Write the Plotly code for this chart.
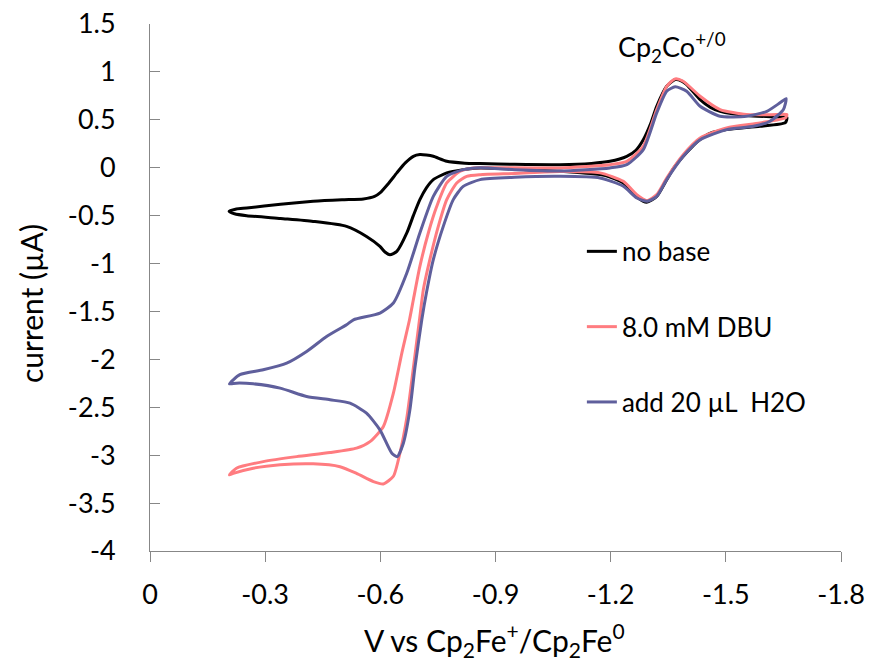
import plotly.graph_objects as go

# ---- data (V vs Cp2Fe+/Cp2Fe0, current in uA), loop: left vertex -> right vertex -> back
no_base_v = [-0.206, -0.225, -0.252, -0.34, -0.425, -0.50, -0.556, -0.585, -0.599, -0.62, -0.643, -0.665,
             -0.686, -0.703, -0.72, -0.738, -0.773, -0.82, -0.86, -0.95, -1.068, -1.15, -1.198, -1.242,
             -1.265, -1.285, -1.305, -1.32, -1.346, -1.368, -1.385, -1.398, -1.433, -1.46, -1.485, -1.554,
             -1.633, -1.659,
             -1.655, -1.589, -1.502, -1.46, -1.433, -1.41, -1.389, -1.365, -1.346, -1.32, -1.294, -1.268,
             -1.25, -1.233, -1.20, -1.172, -1.068, -0.95, -0.86, -0.816, -0.773, -0.738, -0.72, -0.703,
             -0.686, -0.669, -0.643, -0.625, -0.612, -0.599, -0.564, -0.512, -0.425, -0.34, -0.252, -0.22,
             -0.206]
no_base_i = [-0.455, -0.43, -0.42, -0.38, -0.351, -0.335, -0.326, -0.30, -0.263, -0.17, -0.054, 0.05,
             0.119, 0.137, 0.132, 0.119, 0.067, 0.048, 0.043, 0.035, 0.032, 0.045, 0.067, 0.119,
             0.18, 0.293, 0.47, 0.641, 0.85, 0.92, 0.905, 0.868, 0.711, 0.63, 0.589, 0.545,
             0.53, 0.525,
             0.47, 0.432, 0.398, 0.36, 0.293, 0.21, 0.119, 0.0, -0.124, -0.299, -0.36, -0.305,
             -0.23, -0.159, -0.10, -0.072, -0.037, -0.015, -0.002, -0.02, -0.054, -0.124, -0.21, -0.333,
             -0.50, -0.681, -0.873, -0.908, -0.88, -0.821, -0.717, -0.612, -0.56, -0.53, -0.50, -0.48,
             -0.455]

dbu_v = [-0.207, -0.225, -0.295, -0.382, -0.469, -0.538, -0.573, -0.608, -0.634, -0.656, -0.676, -0.686,
         -0.703, -0.725, -0.747, -0.773, -0.808, -0.842, -0.90, -1.068, -1.198, -1.242, -1.285, -1.32,
         -1.346, -1.368, -1.389, -1.433, -1.485, -1.554, -1.633, -1.659,
         -1.655, -1.589, -1.502, -1.433, -1.389, -1.346, -1.32, -1.295, -1.268, -1.233, -1.172, -1.068,
         -0.95, -0.86, -0.825, -0.799, -0.773, -0.751, -0.729, -0.712, -0.702, -0.686, -0.669, -0.651,
         -0.634, -0.608, -0.582, -0.538, -0.495, -0.425, -0.339, -0.269, -0.217, -0.207]
dbu_i = [-3.206, -3.136, -3.067, -3.015, -2.973, -2.927, -2.858, -2.70, -2.353, -1.935, -1.587, -1.378,
         -1.03, -0.681, -0.403, -0.159, -0.037, -0.002, 0.0, -0.002, 0.032, 0.067, 0.224, 0.607,
         0.85, 0.927, 0.903, 0.746, 0.607, 0.555, 0.555, 0.555,
         0.52, 0.468, 0.416, 0.311, 0.137, -0.107, -0.281, -0.344, -0.281, -0.142, -0.054, -0.04,
         -0.06, -0.072, -0.09, -0.159, -0.333, -0.612, -0.96, -1.273, -1.587, -2.09, -2.61, -2.98,
         -3.22, -3.30, -3.276, -3.19, -3.12, -3.09, -3.10, -3.136, -3.19, -3.206]

h2o_v = [-0.207, -0.234, -0.295, -0.356, -0.408, -0.46, -0.512, -0.53, -0.599, -0.634, -0.669, -0.703,
         -0.738, -0.773, -0.816, -0.86, -0.95, -1.068, -1.198, -1.242, -1.285, -1.32, -1.346, -1.368,
         -1.398, -1.433, -1.485, -1.554, -1.607, -1.641, -1.657,
         -1.65, -1.615, -1.572, -1.502, -1.433, -1.389, -1.346, -1.32, -1.295, -1.268, -1.233, -1.172,
         -1.068, -0.95, -0.86, -0.816, -0.79, -0.764, -0.738, -0.72, -0.708, -0.69, -0.677, -0.66,
         -0.644, -0.63, -0.599, -0.564, -0.521, -0.469, -0.408, -0.339, -0.269, -0.225, -0.207]
h2o_i = [-2.255, -2.16, -2.109, -2.04, -1.918, -1.761, -1.639, -1.587, -1.517, -1.412, -1.099, -0.681,
         -0.299, -0.09, -0.02, 0.0, -0.02, -0.035, -0.002, 0.032, 0.189, 0.572, 0.798, 0.844,
         0.798, 0.641, 0.537, 0.537, 0.589, 0.677, 0.722,
         0.607, 0.485, 0.432, 0.398, 0.293, 0.119, -0.124, -0.299, -0.351, -0.316, -0.194, -0.107,
         -0.09, -0.10, -0.124, -0.194, -0.333, -0.612, -0.96, -1.308, -1.587, -2.09, -2.527, -2.875,
         -3.015, -2.98, -2.736, -2.562, -2.457, -2.422, -2.388, -2.30, -2.255, -2.248, -2.255]

series_names = ["no base", "8.0 mM DBU", "add 20 \u00b5L  H2O"]
series_colors = ["#000000", "#FF7C80", "#5F5F9C"]

x_ticks = [0, -0.3, -0.6, -0.9, -1.2, -1.5, -1.8]
x_tick_text = ["0", "-0.3", "-0.6", "-0.9", "-1.2", "-1.5", "-1.8"]
y_ticks = [1.5, 1, 0.5, 0, -0.5, -1, -1.5, -2, -2.5, -3, -3.5, -4]
y_tick_text = ["1.5", "1", "0.5", "0", "-0.5", "-1", "-1.5", "-2", "-2.5", "-3", "-3.5", "-4"]

x_title = "V vs Cp<sub>2</sub>Fe<sup>+</sup>/Cp<sub>2</sub>Fe<sup>0</sup>"
y_title = "current (\u00b5A)"
couple_label = "Cp<sub>2</sub>Co<sup>+/0</sup>"

FONT = "Lato"
L, R, T, B = 150, 31, 24, 111
W, H = 872, 662
PW, PH = W - L - R, H - T - B


def px_x(p):
    return (p - L) / PW


def px_y(p):
    return (H - B - p) / PH


fig = go.Figure()
for k, (vx, iy) in enumerate([(no_base_v, no_base_i), (dbu_v, dbu_i), (h2o_v, h2o_i)]):
    fig.add_trace(go.Scatter(
        x=vx, y=iy, mode="lines", name=series_names[k], legendgroup=f"g{k}",
        line=dict(color=series_colors[k], width=3, shape="spline", smoothing=0.6),
    ))

axis_col = "#878787"
fig.update_layout(
    width=W, height=H,
    margin=dict(l=L, r=R, t=T, b=B),
    paper_bgcolor="white", plot_bgcolor="white",
    font=dict(family=FONT, size=27, color="black"),
    showlegend=True,
    legend=dict(x=0.625, y=0.613, xanchor="left", yanchor="top",
                bgcolor="rgba(0,0,0,0)", font=dict(size=26, family=FONT),
                traceorder="grouped", tracegroupgap=38.5, itemwidth=30),
    xaxis=dict(range=[0, -1.8], tickvals=x_ticks, ticktext=x_tick_text,
               showgrid=False, zeroline=False, showline=True, linecolor=axis_col, linewidth=1,
               ticks="outside", ticklen=10, tickcolor=axis_col, tickwidth=1,
               ticklabelstandoff=10, automargin=False),
    yaxis=dict(range=[-4, 1.5], tickvals=y_ticks, ticktext=y_tick_text,
               showgrid=False, zeroline=False, showline=True, linecolor=axis_col, linewidth=1,
               ticks="inside", ticklen=10, tickcolor=axis_col, tickwidth=1,
               ticklabelstandoff=28, automargin=False),
    annotations=[
        dict(text=couple_label, xref="paper", yref="paper", x=px_x(671.5), y=px_y(47),
             xanchor="center", yanchor="middle", showarrow=False, font=dict(size=27, family=FONT)),
        dict(text=x_title, xref="paper", yref="paper", x=px_x(494.5), y=px_y(640),
             xanchor="center", yanchor="middle", showarrow=False, font=dict(size=30, family=FONT)),
        dict(text=y_title, xref="paper", yref="paper", x=px_x(31), y=px_y(304), textangle=-90,
             xanchor="center", yanchor="middle", showarrow=False, font=dict(size=30, family=FONT)),
    ],
)
fig.write_html("out.html")
